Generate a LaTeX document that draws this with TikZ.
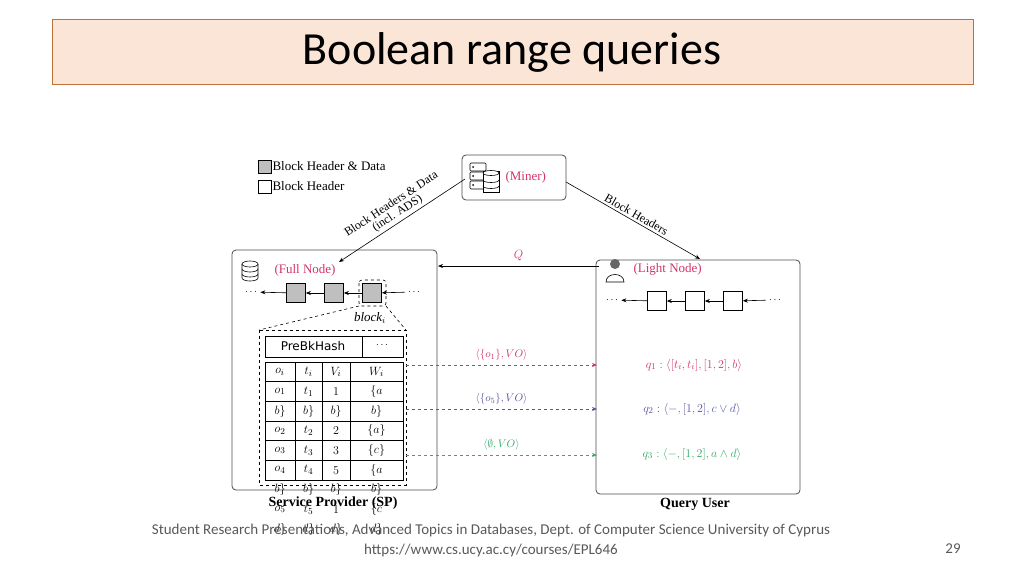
\documentclass[tikz,border=0pt]{standalone}
\usepackage{fontspec}
\setmainfont{Liberation Serif}
\newfontfamily\calfont{Carlito}
\newfontfamily\sansf{DejaVu Sans}
\usetikzlibrary{arrows.meta}
\definecolor{tred}{HTML}{D2336A}
\definecolor{tblue}{HTML}{5555A0}
\definecolor{tgreen}{HTML}{33AA66}
\definecolor{peach}{HTML}{FBE5D6}
\definecolor{obrd}{HTML}{C0703A}
\tikzset{
 panel/.style={draw=black!70,rounded corners=4pt,line width=0.8pt},
 blk/.style={draw,minimum size=19pt,inner sep=0pt,line width=0.7pt},
 arr/.style={-{Stealth[length=5pt,width=4pt]},line width=0.6pt},
 darr/.style={arr,dashed},
 lbl/.style={font=\fontsize{13}{14}\selectfont},
 cell/.style={font=\fontsize{13}{14}\selectfont},
}
\begin{document}
\begin{tikzpicture}[x=1pt,y=-1pt]
\useasboundingbox (0,0) rectangle (1024,576);
% title
\node[draw=obrd,fill=peach,line width=0.8pt,minimum width=921pt,minimum height=65pt,inner sep=0pt] (title) at (512.5,51.5) {};
\node[font=\calfont\fontsize{46}{50}\selectfont] (tt) at (512,52) {Boolean range queries};
% legend
\node[blk,fill=black!25,minimum size=13pt] (lg1) at (264.5,166.5) {};
\node[lbl,anchor=west,inner sep=1pt] (lt1) at (lg1.east) {Block Header \& Data};
\node[blk,minimum size=13pt] (lg2) at (264.5,186.5) {};
\node[lbl,anchor=west,inner sep=1pt] (lt2) at (lg2.east) {Block Header};
% miner
\node[panel,minimum width=104pt,minimum height=45pt] (miner) at (514,177.5) {};
\node[lbl,text=tred,anchor=west] (mt) at (502,177) {(Miner)};
\foreach \yy in {163,172,181}{\draw[line width=0.6pt,rounded corners=1pt] (470,\yy) rectangle (486,\yy+8); \fill (473,\yy+4) circle (1pt);}
\draw[line width=0.6pt,fill=white] (483,171) rectangle (499,192);
\draw[line width=0.6pt,fill=white] (491,173) ellipse (8pt and 2.5pt);
\draw[line width=0.6pt] (483,180) arc (180:360:8pt and 2.5pt) (483,186) arc (180:360:8pt and 2.5pt);
% panels
\node[panel,minimum width=205pt,minimum height=240pt] (full) at (334.5,370) {};
\node[panel,minimum width=204pt,minimum height=234pt] (light) at (698,377) {};
\node[font=\bfseries\fontsize{14}{15}\selectfont] (sp) at (333,503) {Service Provider (SP)};
\node[font=\bfseries\fontsize{14}{15}\selectfont] (qu) at (695,504) {Query User};
% miner arrows
\coordinate (m1) at (465,179); \coordinate (f1) at (339,262);
\coordinate (m2) at (566,182); \coordinate (l1) at (700,259);
\draw[arr] (m1) -- node[lbl,sloped,above=-1pt,align=center,font=\fontsize{12}{12}\selectfont]{Block Headers \& Data\\[-1pt](incl. ADS)} (f1);
\draw[arr] (m2) -- node[sloped,above=-1pt,font=\fontsize{12}{13}\selectfont]{Block Headers} (l1);
\coordinate (qa) at (599,266); \coordinate (qb) at (438,266);
\draw[arr] (qa) -- node[lbl,text=tred,above=2pt]{$Q$} (qb);
% full node
\draw[line width=0.6pt] (250,264) ellipse (8pt and 3pt);
\draw[line width=0.6pt] (242,264) -- (242,278) arc (180:360:8pt and 3pt) -- (258,264);
\draw[line width=0.6pt] (242,269) arc (180:360:8pt and 3pt) (242,274) arc (180:360:8pt and 3pt);
\node[lbl,text=tred,anchor=west] (fnt) at (271,270) {(Full Node)};
\node[blk,fill=black!25] (b1) at (296,293) {};
\node[blk,fill=black!25] (b2) at (334,293) {};
\node[blk,fill=black!25] (b3) at (372,293) {};
\node (dl) at (251,292) {$\cdots$};
\node (dr) at (414,292) {$\cdots$};
\draw[arr] (dr) -- (b3); \draw[arr] (b3) -- (b2); \draw[arr] (b2) -- (b1); \draw[arr] (b1) -- (dl);
\draw[dashed,rounded corners=3pt,line width=0.6pt] (359,280) rectangle (386,306);
\node[lbl,font=\itshape\fontsize{13}{14}\selectfont] (bi) at (370,318) {block$_i$};
\draw[dashed,line width=0.6pt] (259,330) rectangle (406,485);
\draw[dashed,line width=0.6pt] (359,306) -- (259,330) (386,306) -- (406,330);
% table
\draw[line width=0.7pt] (265,336) rectangle (403,357) (362,336) -- (362,357);
\node[font=\sansf\fontsize{12}{13}\selectfont] (pbh) at (313,346.5) {PreBkHash};
\node (pd) at (382,345) {$\cdots$};
\draw[line width=0.7pt] (265,362) rectangle (403,480);
\foreach \i in {1,...,5} \draw[line width=0.7pt] (265,362+\i*19.67) -- (403,362+\i*19.67);
\foreach \xx in {295,322,350} \draw[line width=0.7pt] (\xx,362) -- (\xx,480);
\foreach \a/\b/\c/\d [count=\r from 0] in {o_i/t_i/V_i/W_i, o_1/t_1/1/\{a,b\}, o_2/t_2/2/\{a\}, o_3/t_3/3/\{c\}, o_4/t_4/5/\{a,b\}, o_5/t_5/1/\{c,d\}}{
 \node[cell] at (280,371.8+\r*19.67) {$\a$};
 \node[cell] at (308.5,371.8+\r*19.67) {$\b$};
 \node[cell] at (336,371.8+\r*19.67) {$\c$};
 \node[cell] at (376.5,371.8+\r*19.67) {$\d$};}
% light node
\fill[black!60] (615,264) circle (5pt);
\draw[line width=0.6pt] (606,282) .. controls (606,272) and (624,272) .. (624,282) -- cycle;
\node[lbl,text=tred,anchor=west] (lnt) at (630,269) {(Light Node)};
\node[blk] (c1) at (657,301) {};
\node[blk] (c2) at (695,301) {};
\node[blk] (c3) at (733,301) {};
\node (el) at (612,300) {$\cdots$};
\node (er) at (775,300) {$\cdots$};
\draw[arr] (er) -- (c3); \draw[arr] (c3) -- (c2); \draw[arr] (c2) -- (c1); \draw[arr] (c1) -- (el);
% queries
\coordinate (s1) at (406,365); \coordinate (t1) at (597,365);
\coordinate (s2) at (406,409); \coordinate (t2) at (597,409);
\coordinate (s3) at (406,455); \coordinate (t3) at (597,455);
\draw[darr,tred] (s1) -- node[above=1pt,font=\fontsize{11}{12}\selectfont]{$\langle\{o_1\},VO\rangle$} (t1);
\draw[darr,tblue] (s2) -- node[above=1pt,font=\fontsize{11}{12}\selectfont]{$\langle\{o_5\},VO\rangle$} (t2);
\draw[darr,tgreen] (s3) -- node[above=1pt,font=\fontsize{11}{12}\selectfont]{$\langle\emptyset,VO\rangle$} (t3);
\node[lbl,text=tred] (q1) at (694,365) {$q_1:\langle[t_i,t_i],[1,2],b\rangle$};
\node[lbl,text=tblue] (q2) at (692,409) {$q_2:\langle -,[1,2],c\vee d\rangle$};
\node[lbl,text=tgreen] (q3) at (692,454) {$q_3:\langle -,[1,2],a\wedge d\rangle$};
% footer
\node[font=\calfont\fontsize{15}{16}\selectfont,text=black!65] (ft1) at (491,530) {Student Research Presentations, Advanced Topics in Databases, Dept. of Computer Science University of Cyprus};
\node[font=\calfont\fontsize{15}{16}\selectfont,text=black!65] (ft2) at (491,550) {https://www.cs.ucy.ac.cy/courses/EPL646};
\node[font=\calfont\fontsize{15}{16}\selectfont,text=black!65] (pg) at (953,549) {29};
\end{tikzpicture}
\end{document}
